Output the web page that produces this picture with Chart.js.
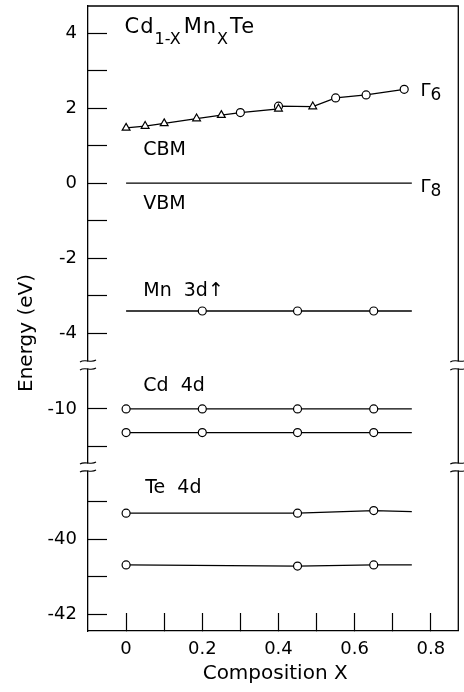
<!DOCTYPE html>
<html>
<head>
<meta charset="utf-8">
<script src="https://cdn.jsdelivr.net/npm/chart.js@4.4.1/dist/chart.umd.min.js"></script>
<style>
  html, body { margin: 0; padding: 0; background: #fff; }
</style>
</head>
<body>
<canvas id="myChart" width="464" height="692"></canvas>
<script>
'use strict';

// conduction band minimum, two sets of measurements
var cbmTriX = [0, 0.05, 0.1, 0.185, 0.25, 0.4, 0.49];
var cbmTriE = [1.47, 1.52, 1.59, 1.72, 1.81, 1.98, 2.04];
var cbmCircX = [0.3, 0.4, 0.55, 0.63, 0.73];
var cbmCircE = [1.88, 2.05, 2.27, 2.35, 2.5];

// valence band maximum
var vbmX = [0, 0.75];
var vbmE = [0, 0];

// Mn 3d and Cd 4d levels (last x is the end of the drawn line, no marker)
var levelX = [0, 0.2, 0.45, 0.65, 0.75];
var mn3dE = [-3.41, -3.41, -3.41, -3.41, -3.41];
var mn3dMark = [false, true, true, true, false];
var cd4dAE = [-10, -10, -10, -10, -10];
var cd4dBE = [-10.63, -10.63, -10.63, -10.63, -10.63];
var cd4dMark = [true, true, true, true, false];

// Te 4d levels
var teX = [0, 0.45, 0.65, 0.75];
var te4dAE = [-39.3, -39.3, -39.23, -39.26];
var te4dBE = [-40.68, -40.71, -40.68, -40.68];
var teMark = [true, true, true, false];

// ticks
var xTicks = [0, 0.1, 0.2, 0.3, 0.4, 0.5, 0.6, 0.7, 0.8];
var xLabels = [0, 0.2, 0.4, 0.6, 0.8];
var yTopTicks = [4, 3, 2, 1, 0, -1, -2, -3, -4];
var yMidTicks = [-10, -11];
var yLowTicks = [-39, -40, -41, -42];
var yLabels = [4, 2, 0, -2, -4, -10, -40, -42];

var FONT = '"DejaVu Sans", sans-serif';

function pts(xs, es) {
    return xs.map(function(x, i) { return {x: x, y: es[i]}; });
}

var cbmAll = pts(cbmTriX, cbmTriE).concat(pts(cbmCircX, cbmCircE));
cbmAll.sort(function(a, b) { return a.x - b.x; });

function lineSet(data, axis, marks) {
    return {
        data: data,
        yAxisID: axis,
        showLine: true,
        borderColor: '#000',
        borderWidth: 1.3,
        pointStyle: 'circle',
        pointRadius: function(c) { return marks && marks[c.dataIndex] ? 4 : 0; },
        pointBackgroundColor: '#fff',
        pointBorderColor: '#000',
        pointBorderWidth: 1.2,
        order: 2
    };
}

function markSet(data, style, r) {
    return {
        data: data,
        yAxisID: 'yTop',
        showLine: false,
        pointStyle: style,
        pointRadius: r,
        pointBackgroundColor: '#fff',
        pointBorderColor: '#000',
        pointBorderWidth: 1.2,
        order: 1
    };
}

function yScale(ticks, min, max, w) {
    return {
        type: 'linear',
        position: 'left',
        stack: 'energy',
        stackWeight: max - min,
        weight: w,
        min: min,
        max: max,
        afterBuildTicks: function(s) { s.ticks = ticks.map(function(v) { return {value: v}; }); },
        afterFit: function(s) {
            s.width = 88;
            s.paddingTop = 0;
            s.paddingBottom = 0;
        },
        grid: { drawOnChartArea: false, tickLength: -19, tickColor: '#000', tickWidth: 1.2 },
        border: { color: '#000', width: 1.3 },
        ticks: {
            padding: 30,
            color: '#000',
            autoSkip: false,
            font: { family: FONT, size: 18 },
            callback: function(v) { return yLabels.indexOf(v) >= 0 ? String(v) : ''; }
        }
    };
}

// text placed in data coordinates of the given axis
var notes = [
    { axis: 'yTop', x: -0.004, y: 4.01, pieces: [
        {t: 'Cd', size: 21, ls: 1}, {t: '1-X', size: 16, dy: 11, gap: 3},
        {t: 'Mn', size: 21, ls: 1}, {t: 'X', size: 16, dy: 11, gap: 2}, {t: 'Te', size: 21, ls: 2}] },
    { axis: 'yTop', x: 0.045, y: 0.74, pieces: [{t: 'CBM', size: 19}] },
    { axis: 'yTop', x: 0.045, y: -0.68, pieces: [{t: 'VBM', size: 19}] },
    { axis: 'yTop', x: 0.045, y: -3.02, pieces: [{t: 'Mn  3d\u2191', size: 19}] },
    { axis: 'yMid', x: 0.045, y: -9.52, pieces: [{t: 'Cd  4d', size: 19}] },
    { axis: 'yLow', x: 0.05, y: -38.76, pieces: [{t: 'Te  4d', size: 19}] },
    { axis: 'yTop', x: 0.773, y: 2.32, pieces: [{t: '\u0393', size: 18}, {t: '6', size: 17, dy: 4}] },
    { axis: 'yTop', x: 0.773, y: -0.24, pieces: [{t: '\u0393', size: 18}, {t: '8', size: 17, dy: 4}] }
];

function drawPieces(ctx, x, y, pieces) {
    pieces.forEach(function(p) {
        ctx.font = p.size + 'px ' + FONT;
        ctx.letterSpacing = (p.ls || 0) + 'px';
        ctx.fillText(p.t, x, y + (p.dy || 0));
        x += ctx.measureText(p.t).width + (p.gap || 0);
    });
}

function tilde(ctx, x, y) {
    ctx.beginPath();
    ctx.moveTo(x - 8, y + 1);
    ctx.bezierCurveTo(x - 3, y - 2.5, x + 3, y + 2.5, x + 8, y - 1);
    ctx.stroke();
}

var framePlugin = {
    id: 'frame',
    afterDraw: function(chart) {
        var ctx = chart.ctx;
        var ca = chart.chartArea;
        ctx.save();
        ctx.strokeStyle = '#000';
        ctx.lineWidth = 1.3;
        ctx.beginPath();
        ctx.moveTo(ca.left, ca.top);
        ctx.lineTo(ca.right, ca.top);
        ctx.lineTo(ca.right, ca.bottom);
        ctx.stroke();

        // axis breaks
        [chart.scales.yTop.bottom, chart.scales.yMid.bottom].forEach(function(yb) {
            [ca.left, ca.right].forEach(function(xb) {
                ctx.fillStyle = '#fff';
                ctx.fillRect(xb - 2, yb - 3.5, 4, 7);
                ctx.lineWidth = 1.1;
                tilde(ctx, xb, yb - 4);
                tilde(ctx, xb, yb + 4);
            });
        });

        // labels
        ctx.fillStyle = '#000';
        ctx.textBaseline = 'alphabetic';
        ctx.textAlign = 'left';
        notes.forEach(function(n) {
            var px = chart.scales.x.getPixelForValue(n.x);
            var py = chart.scales[n.axis].getPixelForValue(n.y);
            drawPieces(ctx, px, py, n.pieces);
        });

        ctx.letterSpacing = '0px';
        ctx.font = '20px ' + FONT;
        ctx.textAlign = 'center';
        ctx.fillText('Composition X', (ca.left + ca.right) / 2 + 2, chart.height - 13);

        ctx.translate(31.5, 333);
        ctx.rotate(-Math.PI / 2);
        ctx.fillText('Energy (eV)', 0, 0);
        ctx.restore();
    }
};

var ctx = document.getElementById('myChart');
var myChart = new Chart(ctx, {
    type: 'scatter',
    data: {
        datasets: [
            lineSet(cbmAll, 'yTop', null),
            markSet(pts(cbmTriX, cbmTriE), 'triangle', 4.5),
            markSet(pts(cbmCircX, cbmCircE), 'circle', 4),
            lineSet(pts(vbmX, vbmE), 'yTop', null),
            lineSet(pts(levelX, mn3dE), 'yTop', mn3dMark),
            lineSet(pts(levelX, cd4dAE), 'yMid', cd4dMark),
            lineSet(pts(levelX, cd4dBE), 'yMid', cd4dMark),
            lineSet(pts(teX, te4dAE), 'yLow', teMark),
            lineSet(pts(teX, te4dBE), 'yLow', teMark)
        ]
    },
    options: {
        responsive: false,
        animation: false,
        layout: { padding: { top: 6, right: 3, left: 0, bottom: 0 } },
        plugins: {
            legend: { display: false },
            tooltip: { enabled: false }
        },
        scales: {
            x: {
                type: 'linear',
                position: 'bottom',
                min: -0.1,
                max: 0.872,
                afterBuildTicks: function(s) { s.ticks = xTicks.map(function(v) { return {value: v}; }); },
                afterFit: function(s) {
                    s.height = 61;
                    s.paddingLeft = 0;
                    s.paddingRight = 0;
                },
                grid: { drawOnChartArea: false, tickLength: -18, tickColor: '#000', tickWidth: 1.2 },
                border: { color: '#000', width: 1.3 },
                ticks: {
                    padding: 26,
                    color: '#000',
                    autoSkip: false,
                    maxRotation: 0,
                    font: { family: FONT, size: 18 },
                    callback: function(v) {
                        if (xLabels.indexOf(v) < 0) return '';
                        return v === 0 ? '0' : v.toFixed(1);
                    }
                }
            },
            yLow: yScale(yLowTicks, -42.44, -38.07, 1),
            yMid: yScale(yMidTicks, -11.55, -8.83, 2),
            yTop: yScale(yTopTicks, -4.85, 4.72, 3)
        }
    },
    plugins: [framePlugin]
});
</script>
</body>
</html>
